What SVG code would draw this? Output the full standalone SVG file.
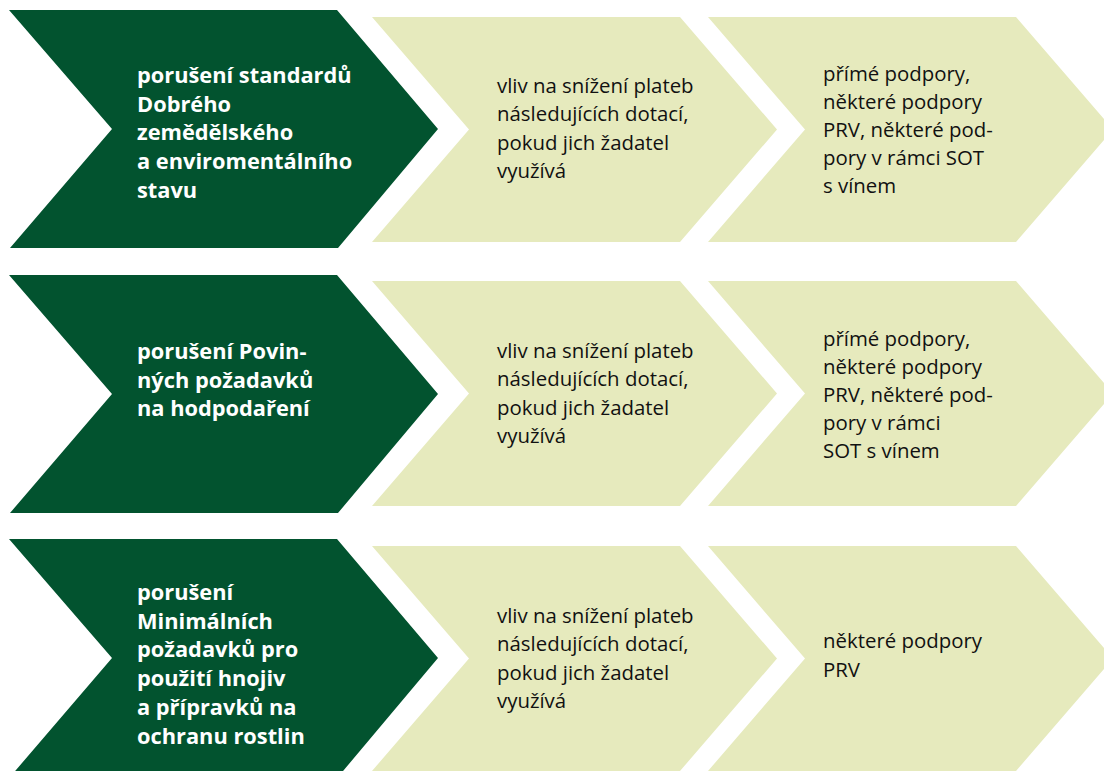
<svg xmlns="http://www.w3.org/2000/svg" xmlns:xlink="http://www.w3.org/1999/xlink" width="1104" height="771" viewBox="0 0 1104 771">
<style>
.dark{fill:#02532F}
.light{fill:#E6EABD}
.dt{font-family:"Open Sans","Noto Sans","Liberation Sans",sans-serif;font-weight:700;font-size:21.8px;fill:#FFFFFF}
.lt{font-family:"Open Sans","Noto Sans","Liberation Sans",sans-serif;font-weight:400;font-size:20.4px;fill:#111111}
</style>
<defs>
<polygon id="darkShape" points="9,0 337,0 438,119 338,238 10,238 112,119"/>
<polygon id="lightShape" points="0,0 308,0 405,112.5 308,225 0,225 97,112.5"/>
</defs>
<rect width="1104" height="771" fill="#FFFFFF"/>
<g id="row1-cause">
<use xlink:href="#darkShape" class="dark" transform="translate(0,10)"/>
<text class="dt"><tspan x="137" y="83">porušení standardů</tspan><tspan x="137" y="111.7">Dobrého</tspan><tspan x="137" y="140.4">zemědělského</tspan><tspan x="137" y="169.1">a enviromentálního</tspan><tspan x="137" y="197.8">stavu</tspan></text>
</g>
<g id="row1-effect">
<use xlink:href="#lightShape" class="light" transform="translate(372,17)"/>
<text class="lt"><tspan x="497" y="93">vliv na snížení plateb</tspan><tspan x="497" y="121.3">následujících dotací,</tspan><tspan x="497" y="149.6">pokud jich žadatel</tspan><tspan x="497" y="177.9">využívá</tspan></text>
</g>
<g id="row1-scope">
<use xlink:href="#lightShape" class="light" transform="translate(708,17)"/>
<text class="lt"><tspan x="823" y="81">přímé podpory,</tspan><tspan x="823" y="109">některé podpory</tspan><tspan x="823" y="137">PRV, některé pod-</tspan><tspan x="823" y="165">pory v rámci SOT</tspan><tspan x="823" y="193">s vínem</tspan></text>
</g>
<g id="row2-cause">
<use xlink:href="#darkShape" class="dark" transform="translate(0,275)"/>
<text class="dt"><tspan x="137" y="359">porušení Povin-</tspan><tspan x="137" y="387.7">ných požadavků</tspan><tspan x="137" y="416.4">na hodpodaření</tspan></text>
</g>
<g id="row2-effect">
<use xlink:href="#lightShape" class="light" transform="translate(372,281)"/>
<text class="lt"><tspan x="497" y="358">vliv na snížení plateb</tspan><tspan x="497" y="386.3">následujících dotací,</tspan><tspan x="497" y="414.6">pokud jich žadatel</tspan><tspan x="497" y="442.9">využívá</tspan></text>
</g>
<g id="row2-scope">
<use xlink:href="#lightShape" class="light" transform="translate(708,281)"/>
<text class="lt"><tspan x="823" y="346">přímé podpory,</tspan><tspan x="823" y="374">některé podpory</tspan><tspan x="823" y="402">PRV, některé pod-</tspan><tspan x="823" y="430">pory v rámci</tspan><tspan x="823" y="458">SOT s vínem</tspan></text>
</g>
<g id="row3-cause">
<use xlink:href="#darkShape" class="dark" transform="translate(0,539)"/>
<text class="dt"><tspan x="137" y="600">porušení</tspan><tspan x="137" y="628.7">Minimálních</tspan><tspan x="137" y="657.4">požadavků pro</tspan><tspan x="137" y="686.1">použití hnojiv</tspan><tspan x="137" y="714.8">a přípravků na</tspan><tspan x="137" y="743.5">ochranu rostlin</tspan></text>
</g>
<g id="row3-effect">
<use xlink:href="#lightShape" class="light" transform="translate(372,546)"/>
<text class="lt"><tspan x="497" y="623">vliv na snížení plateb</tspan><tspan x="497" y="651.3">následujících dotací,</tspan><tspan x="497" y="679.6">pokud jich žadatel</tspan><tspan x="497" y="707.9">využívá</tspan></text>
</g>
<g id="row3-scope">
<use xlink:href="#lightShape" class="light" transform="translate(708,546)"/>
<text class="lt"><tspan x="823" y="648">některé podpory</tspan><tspan x="823" y="677">PRV</tspan></text>
</g>
<g id="connectors"/>
</svg>
